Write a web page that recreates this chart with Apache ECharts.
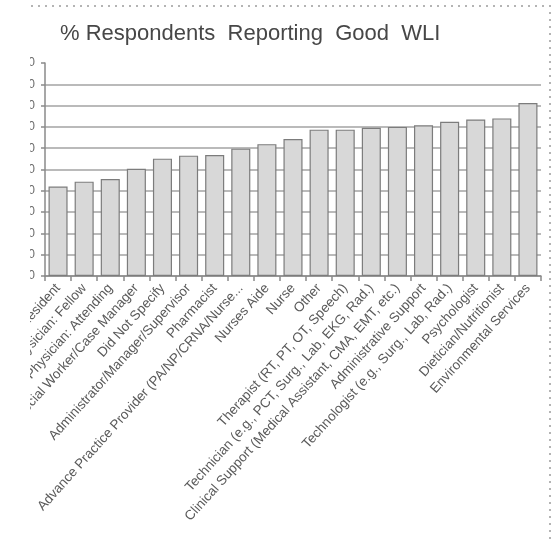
<!DOCTYPE html>
<html>
<head>
<meta charset="utf-8">
<script src="https://cdn.jsdelivr.net/npm/echarts@6/dist/echarts.min.js"></script>
<style>
  html, body { margin: 0; padding: 0; background: #ffffff; }
  #chart { width: 558px; height: 540px; }
</style>
</head>
<body>
<div id="chart"></div>
<script>
// Respondent groups, ordered by share reporting good work-life integration
const categories = [
  'Resident',
  'Physician: Fellow',
  'Physician: Attending',
  'Social Worker/Case Manager',
  'Did Not Specify',
  'Administrator/Manager/Supervisor',
  'Pharmacist',
  'Advance Practice Provider (PA/NP/CRNA/Nurse...',
  'Nurses Aide',
  'Nurse',
  'Other',
  'Therapist (RT, PT, OT, Speech)',
  'Technician (e.g., PCT, Surg., Lab, EKG, Rad.)',
  'Clinical Support (Medical Assistant, CMA, EMT, etc.)',
  'Administrative Support',
  'Technologist (e.g., Surg., Lab, Rad.)',
  'Psychologist',
  'Dietician/Nutritionist',
  'Environmental Services'
];

// Percent of respondents reporting good WLI
const goodWLI = [42.0, 44.3, 45.5, 50.3, 55.1, 56.5, 56.8, 59.8, 61.9, 64.3,
                 68.7, 68.7, 69.6, 70.0, 70.8, 72.4, 73.5, 74.0, 81.2];

// Value-axis ticks
const yTicks = [0, 10, 20, 30, 40, 50, 60, 70, 80, 90, 100];

const chart = echarts.init(document.getElementById('chart'), null, { renderer: 'canvas' });

// grid lines at every tick except the top one
const gridColors = yTicks.map((v, i) => (i === yTicks.length - 1 ? 'rgba(0,0,0,0)' : '#a3a3a3'));

chart.setOption({
  backgroundColor: '#ffffff',
  animation: false,
  title: {
    text: '% Respondents  Reporting  Good  WLI',
    left: 60,
    top: 23,
    padding: 0,
    textStyle: {
      fontFamily: 'Liberation Sans, Arial, sans-serif',
      fontSize: 22,
      fontWeight: 'normal',
      color: '#474747'
    }
  },
  grid: { left: 45, right: 17, top: 63, bottom: 264, containLabel: false },
  xAxis: {
    type: 'category',
    data: categories,
    axisLine: { lineStyle: { color: '#8a8a8a', width: 1.5 } },
    axisTick: { show: true, length: 5, alignWithLabel: false, lineStyle: { color: '#8a8a8a', width: 1.5 } },
    axisLabel: {
      interval: 0,
      rotate: 48,
      margin: 10,
      fontFamily: 'Liberation Sans, Arial, sans-serif',
      fontSize: 13.5,
      color: '#5a5a5a'
    },
    splitLine: { show: false }
  },
  yAxis: {
    type: 'value',
    min: yTicks[0],
    max: yTicks[yTicks.length - 1],
    interval: 10,
    axisLine: { show: true, lineStyle: { color: '#8a8a8a', width: 1.5 } },
    axisTick: { show: true, length: 4, lineStyle: { color: '#8a8a8a', width: 1.5 } },
    axisLabel: {
      margin: 10,
      fontFamily: 'Liberation Sans, Arial, sans-serif',
      fontSize: 12,
      color: '#6a6a6a'
    },
    splitLine: { show: true, lineStyle: { color: gridColors, width: 1.5 } }
  },
  series: [{
    type: 'bar',
    data: goodWLI,
    barCategoryGap: '27%',
    itemStyle: { color: '#d8d8d8', borderColor: '#7c7c7c', borderWidth: 1.2 }
  }],
  graphic: [
    // frame edge: everything left of it is outside the slide box
    { type: 'rect', left: 0, top: 0, shape: { width: 30, height: 540 }, style: { fill: '#ffffff' }, z: 100 },
    // dotted slide border
    {
      type: 'polyline',
      shape: { points: [[31, 6], [550, 6], [550, 540]] },
      style: { stroke: '#b4b4b4', lineWidth: 2, lineDash: [2, 5], fill: null },
      z: 100
    }
  ]
});
</script>
</body>
</html>
